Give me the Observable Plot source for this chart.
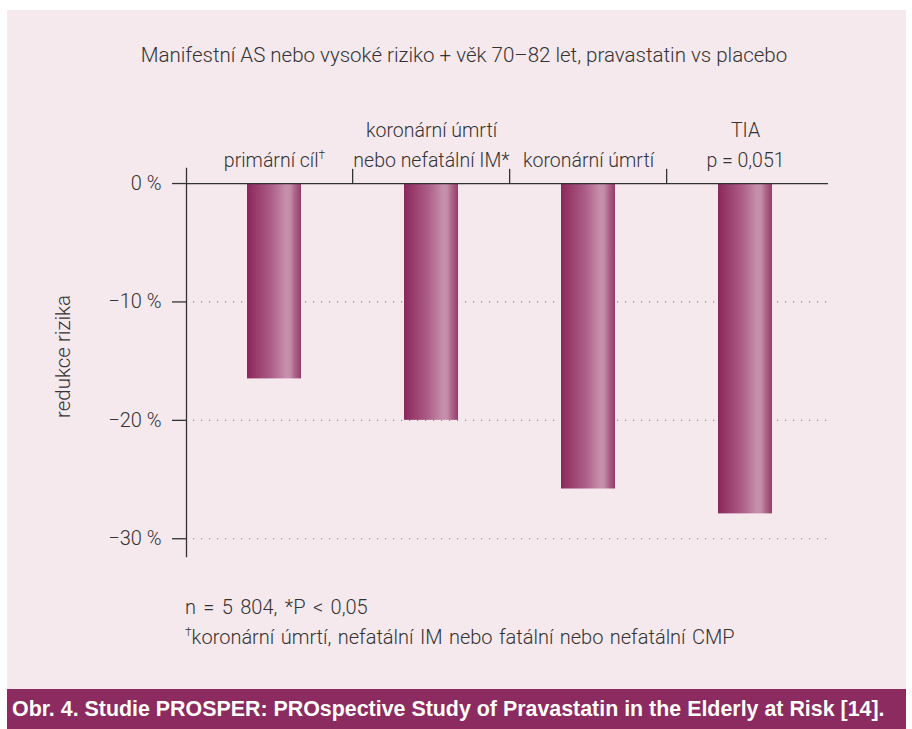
<!DOCTYPE html>
<html>
<head>
<meta charset="utf-8">
<script src="https://cdn.jsdelivr.net/npm/d3@7"></script>
<script src="https://cdn.jsdelivr.net/npm/@observablehq/plot@0.6"></script>
<style>
  body { margin: 0; background: #ffffff; width: 912px; height: 729px; position: relative; overflow: hidden; font-family: Roboto, "Liberation Sans", sans-serif; }
  #panel { position: absolute; left: 7px; top: 10px; width: 899px; height: 679px; background: #f5e9ee; }
  #title { position: absolute; left: 0; top: 34px; width: 914px; text-align: center; font-size: 20.5px; line-height: 22px; font-weight: 300; color: #333; }
  #chart { position: absolute; left: 0; top: 70px; }
  #notes { position: absolute; left: 178px; top: 582px; font-size: 20px; line-height: 30px; font-weight: 300; color: #333; white-space: nowrap; }
  #notes .l1 { word-spacing: 2.5px; }
  #notes .l2 { word-spacing: 1.5px; }
  #notes sup { font-size: 12px; vertical-align: 8px; line-height: 0; }
  #banner { position: absolute; left: 7px; top: 689px; width: 899px; height: 40px; background: #8b2b5f; color: #fff; font-family: "Liberation Sans", Arial, sans-serif; font-weight: bold; font-size: 21.4px; line-height: 40px; padding-left: 5px; box-sizing: border-box; white-space: nowrap; }
</style>
</head>
<body>
<div id="panel">
  <div id="title"></div>
  <div id="chart"></div>
  <div id="notes"></div>
</div>
<div id="banner"></div>
<script>
// ---- data ----
const categories = ["primární cíl", "koronární úmrtí nebo nefatální IM", "koronární úmrtí", "TIA"];
const categoryLabels = ["primární cíl†", "koronární úmrtí\nnebo nefatální IM*", "koronární úmrtí", "TIA\np = 0,051"];
const riskReduction = [-16.5, -20.0, -25.8, -27.9];
const yTicks = [0, -10, -20, -30];
const titleText = "Manifestní AS nebo vysoké riziko + věk 70–82 let, pravastatin vs placebo";
const yLabel = "redukce rizika";
const noteLines = ["n = 5 804, *P < 0,05", "†koronární úmrtí, nefatální IM nebo fatální nebo nefatální CMP"];
const bannerText = "Obr. 4. Studie PROSPER: PROspective Study of Pravastatin in the Elderly at Risk [14].";

const data = categories.map((c, i) => ({cat: c, label: categoryLabels[i], value: riskReduction[i]}));

document.getElementById("title").textContent = titleText;
document.getElementById("banner").textContent = bannerText;
document.getElementById("notes").innerHTML =
  noteLines.map((l, i) => `<span class="l${i + 1}">` + l.replace("†", "<sup>†</sup>") + "</span>").join("<br>");

const ink = "#333333";
const W = 899, H = 490, mL = 179, mR = 78, mT = 88, mB = 14;
const pInner = 0.6576, pOuter = 0.364;
const step = (W - mL - mR) / (categories.length - pInner + 2 * pOuter);

const defs = () => {
  const d = d3.create("svg:defs");
  const g = d.append("linearGradient").attr("id", "barGrad").attr("x1", 0).attr("x2", 1).attr("y1", 0).attr("y2", 0);
  [[0, "#8a285b"], [0.1, "#923364"], [0.45, "#ad5e88"], [0.72, "#c68fab"], [0.8, "#c48ca8"], [0.88, "#ae678c"], [1, "#973b69"]]
    .forEach(([o, c]) => g.append("stop").attr("offset", o).attr("stop-color", c));
  return d.node();
};

const chart = Plot.plot({
  width: W, height: H,
  marginLeft: mL, marginRight: mR, marginTop: mT, marginBottom: mB,
  style: {background: "transparent", fontFamily: "Roboto, sans-serif", overflow: "visible"},
  x: {type: "band", domain: categories, paddingInner: pInner, paddingOuter: pOuter, align: 0.52, axis: null},
  y: {domain: [-31.5, 1.27], axis: null},
  marks: [
    defs,
    Plot.ruleY(yTicks.filter(t => t !== 0), {y: d => d, stroke: "#8a8a8a", strokeWidth: 1.2, strokeDasharray: "1.2,6.8", insetLeft: 7}),
    Plot.barY(data, {x: "cat", y: "value", fill: "url(#barGrad)"}),
    Plot.frame({anchor: "left", stroke: ink, strokeWidth: 1.3}),
    Plot.ruleY([0], {stroke: ink, strokeWidth: 1.3}),
    Plot.ruleX(categories.slice(1), {x: d => d, y1: 0, y2: 1.2, dx: -step / 2, stroke: ink, strokeWidth: 1.3}),
    Plot.axisY(yTicks, {tickSize: 14, tickPadding: 11, color: ink, strokeWidth: 1.3, fontSize: 20, fontWeight: 300, label: null,
      tickFormat: d => d === 0 ? "0 %" : "\u2212" + Math.abs(d) + " %"}),
    Plot.text(data, {x: "cat", y: 0, text: "label", lineAnchor: "bottom", dy: -17, lineHeight: 1.54, fontSize: 19.5, fontWeight: 300, fill: ink}),
    Plot.text([yLabel], {frameAnchor: "left", textAnchor: "middle", text: d => d, rotate: -90, dx: -123, dy: -6, fontSize: 20.5, fontWeight: 300, fill: ink})
  ]
});

// superscript dagger inside svg text
chart.querySelectorAll("text, tspan").forEach(el => {
  el.childNodes.forEach(n => {
    if (n.nodeType === 3 && n.nodeValue.includes("†")) {
      const parts = n.nodeValue.split("†");
      n.nodeValue = parts[0];
      const t = document.createElementNS("http://www.w3.org/2000/svg", "tspan");
      t.setAttribute("font-size", "12");
      t.setAttribute("dy", "-8");
      t.textContent = "†";
      n.after(t);
    }
  });
});

document.getElementById("chart").appendChild(chart);
</script>
</body>
</html>
